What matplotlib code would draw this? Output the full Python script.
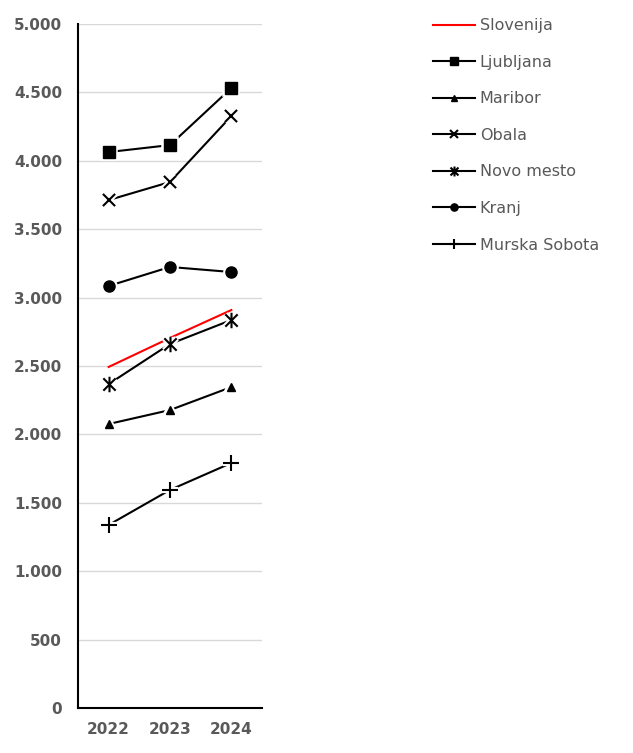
import numpy as np
import matplotlib
matplotlib.use("Agg")
import matplotlib.pyplot as plt
from matplotlib.path import Path
from matplotlib.ticker import FuncFormatter

# data
years = ["2022", "2023", "2024"]
slovenija = [2493, 2705, 2909]
ljubljana = [4064, 4115, 4532]
maribor = [2076, 2178, 2346]
obala = [3713, 3845, 4327]
novo_mesto = [2368, 2661, 2836]
kranj = [3085, 3224, 3187]
murska_sobota = [1338, 1594, 1791]
y_ticks = [0, 500, 1000, 1500, 2000, 2500, 3000, 3500, 4000, 4500, 5000]

# Excel style "star" marker: an x with a vertical bar through it
star_marker = Path(
    [(-1, -1), (1, 1), (-1, 1), (1, -1), (0, -1.25), (0, 1.25)],
    [Path.MOVETO, Path.LINETO, Path.MOVETO, Path.LINETO, Path.MOVETO, Path.LINETO],
)

plt.rcParams['font.family'] = ['DejaVu Sans']

fig = plt.figure(figsize=(6.33, 7.53), dpi=100)
ax = fig.add_axes([0.1232, 0.0598, 0.2907, 0.9083])

x = np.arange(len(years))
ax.plot(x, slovenija, color="#ff0000", lw=1.5, label="Slovenija", zorder=3)

series = [
    (ljubljana, "Ljubljana", "s", 8, 1.0),
    (maribor, "Maribor", "^", 6, 1.0),
    (obala, "Obala", "x", 9, 1.5),
    (novo_mesto, "Novo mesto", star_marker, 11, 1.5),
    (kranj, "Kranj", "o", 8, 1.0),
    (murska_sobota, "Murska Sobota", "+", 11, 1.5),
]
for vals, name, mk, ms, mew in series:
    ax.plot(x, vals, color="black", lw=1.5, marker=mk, ms=ms, mew=mew, label=name,
            zorder=3)
    # white halo so the line stops short of the marker, like in Excel
    ax.plot(x, vals, ls="none", marker=mk, ms=ms, mew=mew + 3, color="white",
            zorder=4)
    ax.plot(x, vals, ls="none", marker=mk, ms=ms, mew=mew, color="black", zorder=5)

ax.set_xlim(-0.5, 2.5)
ax.set_ylim(0, 5000)
ax.set_xticks(x)
ax.set_xticklabels(years)
ax.set_yticks(y_ticks)
ax.yaxis.set_major_formatter(FuncFormatter(lambda v, p: f"{int(v):,}".replace(",", ".")))
ax.grid(axis="y", color="#d9d9d9", lw=1)
ax.set_axisbelow(True)
for s in ["top", "right"]:
    ax.spines[s].set_visible(False)
ax.spines["left"].set_linewidth(1.5)
ax.spines["bottom"].set_linewidth(1.5)
ax.tick_params(length=0, labelsize=11, labelcolor="#595959")
ax.tick_params(axis="y", pad=11.5)
ax.tick_params(axis="x", pad=10)
for lbl in ax.get_xticklabels() + ax.get_yticklabels():
    lbl.set_fontweight("bold")

fig.legend(loc="upper left", bbox_to_anchor=(0.662, 0.995), frameon=False,
           fontsize=11.5, handlelength=2.6, labelspacing=1.35, handletextpad=0.3,
           markerscale=0.65, labelcolor="#595959")

fig.savefig("out.png", dpi=100)
